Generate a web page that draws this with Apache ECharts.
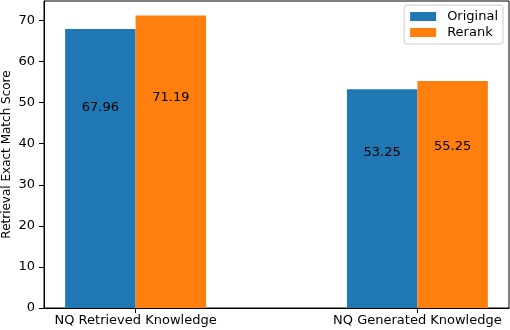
<!DOCTYPE html>
<html>
<head>
<meta charset="utf-8">
<script src="https://cdn.jsdelivr.net/npm/echarts@6/dist/echarts.min.js"></script>
<style>
  html, body { margin: 0; padding: 0; background: #fff; }
  #chart { width: 510px; height: 330px; }
</style>
</head>
<body>
<div id="chart"></div>
<script>
const categories = ['NQ Retrieved Knowledge', 'NQ Generated Knowledge'];
const originalScores = [67.96, 53.25];
const rerankScores = [71.19, 55.25];
const yTicks = [0, 10, 20, 30, 40, 50, 60, 70];
const catIndex = categories.map((c, i) => i);

const chart = echarts.init(document.getElementById('chart'));
const font = 'DejaVu Sans';

// visible frame: x from -0.325 to 1.325 (matplotlib margins), y 0..74.75
const xMin = -0.325, xMax = 1.325, yMax = 74.75;
const plotLeft = 44, plotRight = 509, plotTop = 1, plotBottom = 308;
const unitPx = (plotRight - plotLeft) / (xMax - xMin);
// hidden category grid whose band centres line up with x = 0 and x = 1
const catLeft = plotLeft + (-0.5 - xMin) * unitPx;
const catRight = plotLeft + (categories.length - 0.5 - xMin) * unitPx;

// bar labels sit a quarter of the way down each bar, like the original
const barLabel = {
  show: true,
  position: ['50%', '25%'],
  offset: [0, 2],
  align: 'center',
  verticalAlign: 'top',
  color: '#000',
  fontFamily: font,
  fontSize: 13,
  formatter: p => p.value.toFixed(2)
};

chart.setOption({
  animation: false,
  textStyle: { fontFamily: font },
  grid: [
    {
      left: plotLeft, right: 510 - plotRight, top: plotTop, bottom: 330 - plotBottom,
      outerBoundsMode: 'none', containLabel: false,
      show: true, borderColor: '#000', borderWidth: 1
    },
    {
      left: catLeft, right: 510 - catRight, top: plotTop, bottom: 330 - plotBottom,
      outerBoundsMode: 'none', containLabel: false
    }
  ],
  legend: {
    orient: 'vertical',
    right: 7,
    top: 5,
    icon: 'rect',
    itemWidth: 26,
    itemHeight: 9,
    itemGap: 3,
    padding: [5, 5, 5, 6],
    borderColor: '#cccccc',
    borderWidth: 1,
    borderRadius: 3,
    backgroundColor: '#fff',
    textStyle: { fontFamily: font, fontSize: 13, color: '#000', padding: [0, 0, 0, 6] },
    data: ['Original', 'Rerank']
  },
  xAxis: [
    {
      gridIndex: 0,
      type: 'value',
      min: xMin,
      max: xMax,
      splitLine: { show: false },
      axisLine: { onZero: false, lineStyle: { color: '#000', width: 1 } },
      axisTick: { show: false },
      axisLabel: {
        customValues: catIndex,
        formatter: v => categories[Math.round(v)],
        color: '#000', fontSize: 13, margin: 6
      }
    },
    {
      // carries the bars and the category tick marks
      gridIndex: 1,
      type: 'category',
      data: categories,
      axisLine: { show: false, onZero: false },
      axisLabel: { show: false },
      splitLine: { show: false },
      axisTick: { show: true, alignWithLabel: true, length: 5, lineStyle: { color: '#000', width: 1 } }
    }
  ],
  yAxis: [
    {
      gridIndex: 0,
      type: 'value',
      min: 0,
      max: yMax,
      name: 'Retrieval Exact Match Score',
      nameLocation: 'middle',
      nameRotate: 90,
      nameGap: 31,
      nameMoveOverlap: false,
      nameTextStyle: { fontSize: 12, color: '#000' },
      splitLine: { show: false },
      axisLine: { show: true, onZero: false, lineStyle: { color: '#000', width: 1 } },
      axisTick: { show: true, length: 5, customValues: yTicks, lineStyle: { color: '#000', width: 1 } },
      axisLabel: { customValues: yTicks, color: '#000', fontSize: 13, margin: 9 }
    },
    {
      gridIndex: 1,
      type: 'value',
      min: 0,
      max: yMax,
      show: false
    }
  ],
  series: [
    {
      name: 'Original',
      type: 'bar',
      xAxisIndex: 1,
      yAxisIndex: 1,
      barWidth: 0.25 * unitPx,
      barGap: '0%',
      itemStyle: { color: '#1f77b4' },
      label: barLabel,
      data: originalScores
    },
    {
      name: 'Rerank',
      type: 'bar',
      xAxisIndex: 1,
      yAxisIndex: 1,
      barWidth: 0.25 * unitPx,
      barGap: '0%',
      itemStyle: { color: '#ff7f0e' },
      label: barLabel,
      data: rerankScores
    }
  ]
});
</script>
</body>
</html>
